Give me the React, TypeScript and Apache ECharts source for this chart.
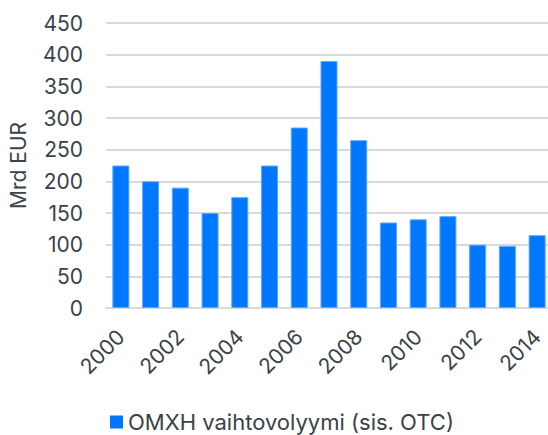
import React, { useEffect, useRef } from "react";
import * as echarts from "echarts";

const years = ["2000","2001","2002","2003","2004","2005","2006","2007","2008","2009","2010","2011","2012","2013","2014"];
const volumes = [225, 200, 190, 150, 175, 225, 285, 390, 265, 135, 140, 145, 100, 98, 115];
const seriesName = "OMXH vaihtovolyymi (sis. OTC)";
const yAxisName = "Mrd EUR";

const FONT = "Inter, 'Open Sans', sans-serif";
const TEXT = "#3a424a";

export default function App() {
  const ref = useRef<HTMLDivElement>(null);
  useEffect(() => {
    if (!ref.current) return;
    const chart = echarts.init(ref.current, undefined, { renderer: "svg" });
    chart.setOption({
      animation: false,
      grid: { left: 106, width: 446, top: 23, bottom: 127, outerBoundsMode: "none", containLabel: false },
      legend: {
        top: 411,
        left: 110,
        padding: 0,
        itemWidth: 13,
        itemHeight: 13,
        itemGap: 10,
        icon: "rect",
        itemStyle: { borderWidth: 0 },
        textStyle: { fontFamily: FONT, fontSize: 22, color: TEXT, padding: [0, 0, 0, 0] },
        data: [seriesName],
      },
      xAxis: {
        type: "category",
        data: years,
        axisLine: { lineStyle: { color: "#d9d9d9", width: 2 } },
        axisTick: { show: false },
        axisLabel: {
          interval: 1,
          rotate: 45,
          fontFamily: FONT,
          fontSize: 21,
          color: TEXT,
          margin: 25,
        },
      },
      yAxis: {
        type: "value",
        min: 0,
        max: 450,
        interval: 50,
        name: yAxisName,
        nameLocation: "middle",
        nameGap: 77,
        nameTextStyle: { fontFamily: FONT, fontSize: 21, color: TEXT },
        axisLine: { show: false },
        axisTick: { show: false },
        splitLine: { lineStyle: { color: "#d9d9d9", width: 2 } },
        axisLabel: { fontFamily: FONT, fontSize: 21, color: TEXT, margin: 23 },
      },
      series: [
        {
          name: seriesName,
          type: "bar",
          data: volumes,
          barWidth: 17,
          itemStyle: { color: "#0077ff", borderColor: "#5aa8ff", borderWidth: 1 },
        },
      ],
    });
    return () => chart.dispose();
  }, []);
  return <div ref={ref} style={{ position: "absolute", left: 0, top: 0, width: 548, height: 435 }} />;
}
